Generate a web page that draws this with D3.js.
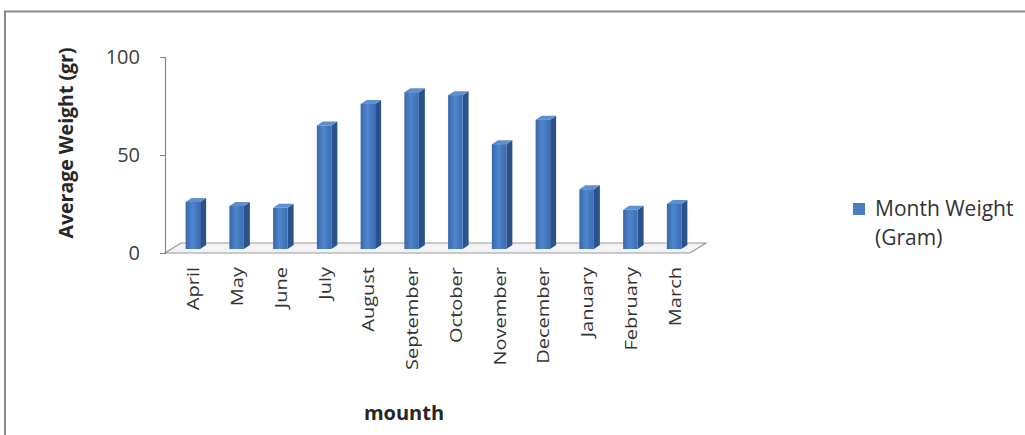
<!DOCTYPE html>
<html lang="en">
<head>
<meta charset="utf-8">
<title>Month Weight</title>
<script src="https://d3js.org/d3.v7.min.js"></script>
<style>
body { margin: 0; background: #fff; }
svg text { font-family: "Open Sans", "Noto Sans", sans-serif; fill: #404040; }
</style>
</head>
<body>
<div id="chart"></div>
<script>
// data
var months = ["April", "May", "June", "July", "August", "September", "October",
              "November", "December", "January", "February", "March"];
var weights = [24, 22, 21, 63, 74, 80, 78.5, 53.5, 66, 30.5, 20, 23];
var yTicks = [0, 50, 100];

var W = 1025, H = 435;
var svg = d3.select("#chart").append("svg")
    .attr("width", W)
    .attr("height", H);

// gradient for the bar fronts
var defs = svg.append("defs");
var grad = defs.append("linearGradient").attr("id", "front")
    .attr("x1", "0%").attr("x2", "100%").attr("y1", "0%").attr("y2", "0%");
grad.append("stop").attr("offset", "0%").attr("stop-color", "#3867ab");
grad.append("stop").attr("offset", "45%").attr("stop-color", "#4f86cc");
grad.append("stop").attr("offset", "100%").attr("stop-color", "#3a6cb2");

// outer frame (only top and left show in the picture)
svg.append("path")
    .attr("d", "M5," + (H + 5) + " L5,11.5 L" + (W + 5) + ",11.5")
    .attr("fill", "none")
    .attr("stroke", "#8a8a8a")
    .attr("stroke-width", 2);

var left = 165, right = 690;
var x = d3.scaleBand().domain(months).range([left, right]).padding(0);
var y = d3.scaleLinear().domain([0, 100]).range([253, 57]);

var depthX = 16, depthY = 10; // floor depth
var barW = 14.5, sideX = 6, sideY = 4;
var shiftX = 6, shiftY = 4;   // bars sit half way back on the floor

// floor
svg.append("path")
    .attr("d", "M" + left + "," + y(0) + " L" + right + "," + y(0) +
               " L" + (right + depthX) + "," + (y(0) - depthY) +
               " L" + (left + depthX) + "," + (y(0) - depthY) + " Z")
    .attr("fill", "#f3f3f6")
    .attr("stroke", "#9a9a9a")
    .attr("stroke-width", 1.2);

// value axis
var yAxis = svg.append("g")
    .attr("transform", "translate(" + left + ",0)")
    .call(d3.axisLeft(y).tickValues(yTicks).tickSize(5).tickPadding(20));
yAxis.select(".domain").attr("stroke", "#868686").attr("stroke-width", 1.2);
yAxis.selectAll(".tick line").attr("stroke", "#868686");
yAxis.selectAll(".tick text")
    .style("font-size", "20px")
    .style("font-family", "'Open Sans', sans-serif")
    .attr("fill", "#404040");

// bars
var bars = svg.selectAll(".bar").data(weights).enter().append("g").attr("class", "bar");

function fx(i) { return x(months[i]) + x.bandwidth() / 2 - barW / 2 + shiftX; }

bars.append("path") // side
    .attr("d", function(d, i) {
      var x0 = fx(i) + barW, yt = y(d) - shiftY, yb = y(0) - shiftY;
      return "M" + x0 + "," + yt + " L" + (x0 + sideX) + "," + (yt - sideY) +
             " L" + (x0 + sideX) + "," + (yb - sideY) + " L" + x0 + "," + yb + " Z";
    })
    .attr("fill", "#2a538c");

bars.append("path") // top
    .attr("d", function(d, i) {
      var x0 = fx(i), yt = y(d) - shiftY;
      return "M" + x0 + "," + yt + " L" + (x0 + sideX) + "," + (yt - sideY) +
             " L" + (x0 + barW + sideX) + "," + (yt - sideY) + " L" + (x0 + barW) + "," + yt + " Z";
    })
    .attr("fill", "#5f8fd0");

bars.append("rect") // front
    .attr("x", function(d, i) { return fx(i); })
    .attr("y", function(d) { return y(d) - shiftY; })
    .attr("width", barW)
    .attr("height", function(d) { return y(0) - y(d); })
    .attr("fill", "url(#front)");

// category labels, rotated
svg.selectAll(".mlabel").data(months).enter().append("text")
    .attr("class", "mlabel")
    .attr("transform", function(d) {
      return "translate(" + (x(d) + x.bandwidth() / 2 + 7) + ",267) rotate(-90) scale(1,0.8)";
    })
    .attr("text-anchor", "end")
    .attr("dy", "0.35em")
    .style("font-size", "20px")
    .style("fill", "#333")
    .text(function(d) { return d; });

// axis titles
svg.append("text")
    .attr("transform", "translate(73,143) rotate(-90)")
    .attr("text-anchor", "middle")
    .style("font-size", "19.5px")
    .style("font-weight", "bold")
    .style("fill", "#262626")
    .text("Average Weight (gr)");

svg.append("text")
    .attr("x", 404)
    .attr("y", 420)
    .attr("text-anchor", "middle")
    .style("font-size", "20px")
    .style("font-weight", "bold")
    .style("fill", "#262626")
    .text("mounth");

// legend
var legend = svg.append("g").attr("transform", "translate(853,203)");
legend.append("rect")
    .attr("width", 12).attr("height", 12)
    .attr("fill", "#4a7ebf");
legend.append("text")
    .attr("x", 22).attr("y", 13)
    .style("font-size", "21px")
    .style("fill", "#333")
    .text("Month Weight");
legend.append("text")
    .attr("x", 22).attr("y", 42)
    .style("font-size", "21px")
    .style("fill", "#333")
    .text("(Gram)");
</script>
</body>
</html>
